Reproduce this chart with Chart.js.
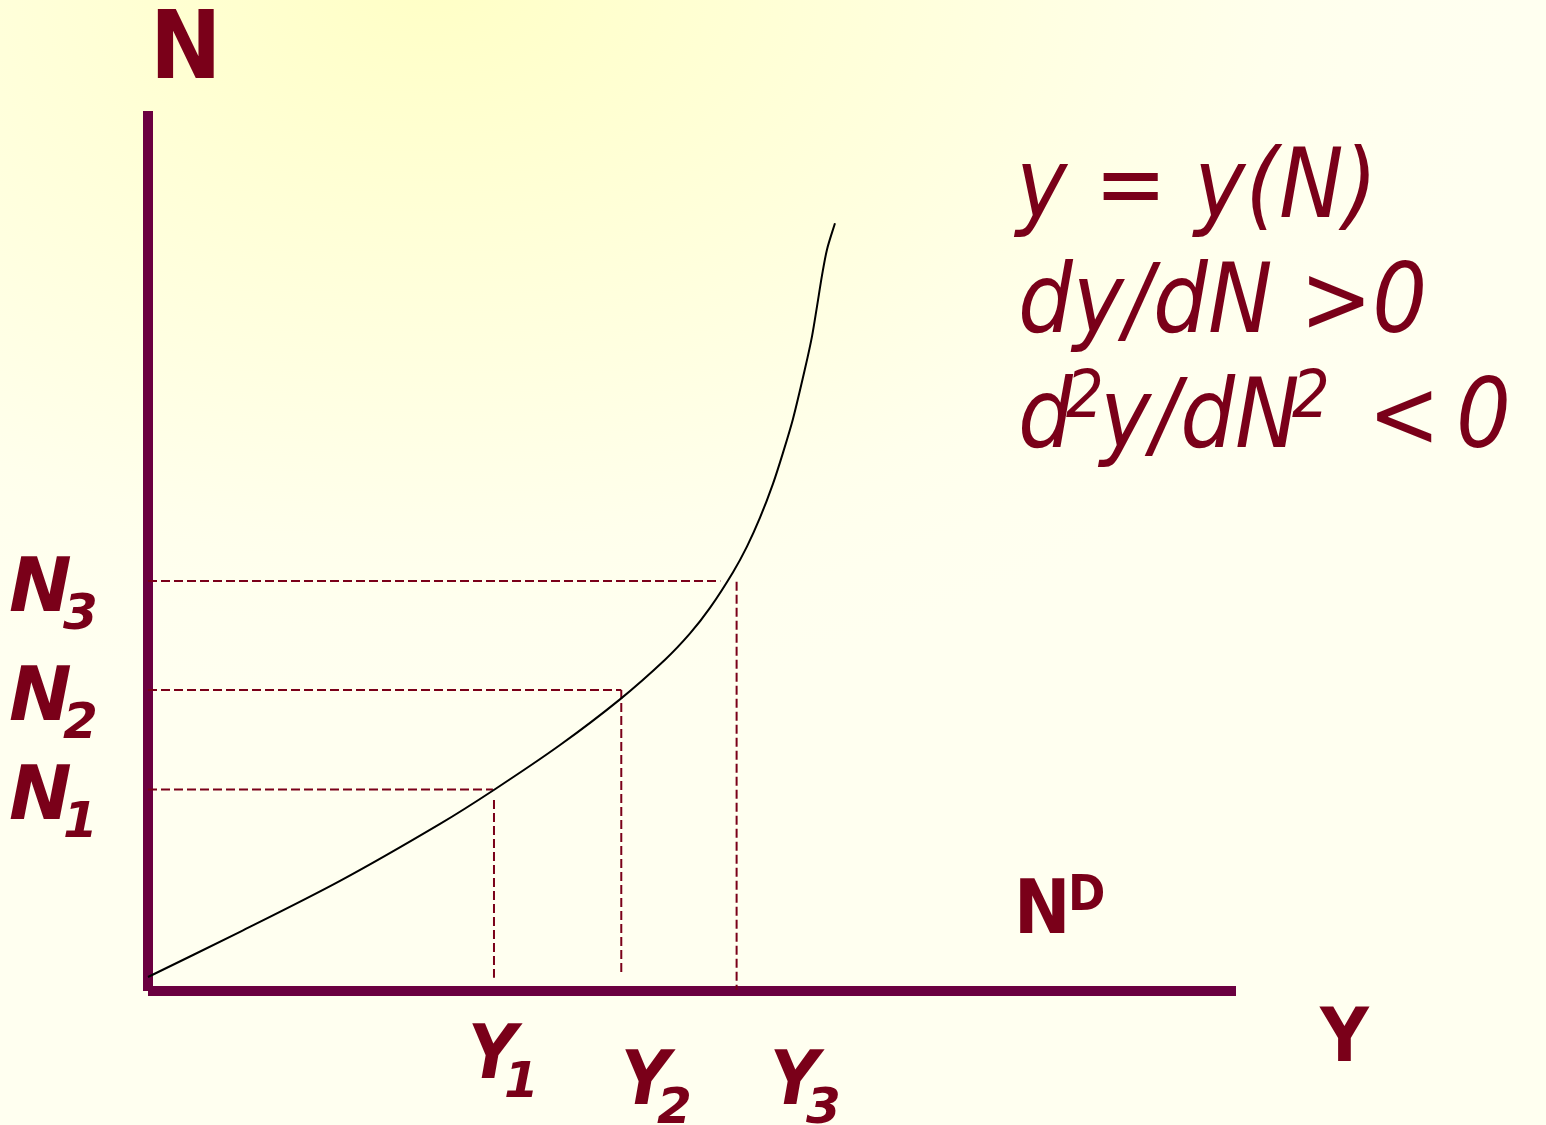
<!DOCTYPE html>
<html><head><meta charset="utf-8">
<script src="https://cdn.jsdelivr.net/npm/chart.js@4"></script>
<style>html,body{margin:0;padding:0;overflow:hidden;background:#fffff0}#wrap{width:1546px;height:1125px;position:relative}</style>
</head><body><div id="wrap"><canvas id="c"></canvas></div>
<script>
// Curve y = y(N): output Y (horizontal) and labour N (vertical), arbitrary units 0..100
const curveY = [0, 8.46, 17.65, 26.84, 31.89, 37.87, 43.38, 47.52, 49.82, 51.65, 53.77, 55.06, 56.25, 57.44, 58.36, 59.28, 60.39, 61.03, 61.49, 61.95, 62.41, 63.14];
const curveN = [1.59, 6.72, 12.51, 18.99, 22.93, 27.95, 33.14, 37.64, 40.63, 43.53, 47.59, 50.53, 53.78, 57.63, 61.15, 65.0, 70.73, 74.39, 77.8, 81.32, 84.27, 87.25];
// Reference levels N1..N3 and Y1..Y3
const nLevels = [22.9, 34.2, 46.6];
const yLevels = [31.8, 43.5, 54.1];
const hEnds = [31.7, 43.5, 52.6];     // where horizontal guides stop
const vTops = [21.7, 34.2, 46.5];     // where vertical guides start
const vBottoms = [1.5, 1.7, 0.1];     // where vertical guides stop
const nLabels = ['1', '2', '3'];
const yLabels = ['1', '2', '3'];
const axisMax = 100;

const AXIS = '#6b0040', RED = '#7a0019';
const datasets = [];
datasets.push({data: curveY.map((v, i) => ({x: v, y: curveN[i]})), borderColor: '#000', borderWidth: 2,
  tension: 0.3, order: 1});
nLevels.forEach((n, i) => datasets.push({data: [{x: 0, y: n}, {x: hEnds[i], y: n}], borderColor: RED, borderWidth: 2, borderDash: [9, 4], order: 2}));
yLevels.forEach((v, i) => datasets.push({data: [{x: v, y: vTops[i]}, {x: v, y: vBottoms[i]}], borderColor: RED, borderWidth: 2, borderDash: [9, 4], order: 2}));
datasets.push({data: [{x: 0, y: 0}, {x: 0, y: axisMax}], borderColor: AXIS, borderWidth: 10, borderCapStyle: 'butt', order: 3});
datasets.push({data: [{x: 0, y: 0}, {x: axisMax, y: 0}], borderColor: AXIS, borderWidth: 10, borderCapStyle: 'butt', order: 3});

const FAM = '"DejaVu Sans", sans-serif';
const bg = {id: 'bg', beforeDraw(c) {
  const ctx = c.ctx; ctx.save();
  ctx.fillStyle = '#fffff0'; ctx.fillRect(0, 0, c.width, c.height);
  ctx.translate(430, -20); ctx.scale(1.5, 1);
  const g = ctx.createRadialGradient(0, 0, 0, 0, 0, 750);
  g.addColorStop(0, '#ffffc6'); g.addColorStop(0.35, '#ffffd8'); g.addColorStop(0.75, '#ffffec'); g.addColorStop(1, 'rgba(255,255,240,0)');
  ctx.fillStyle = g; ctx.fillRect(-600, -20, 1400, 1200); ctx.restore();
}};
function t(ctx, s, x, y, font, stretch) {
  ctx.font = font + ' ' + FAM;
  try { ctx.fontStretch = stretch || 'normal'; } catch (e) {}
  ctx.fillText(s, x, y);
}
const labels = {id: 'labels', afterDraw(c) {
  const ctx = c.ctx; ctx.save();
  ctx.fillStyle = RED; ctx.textBaseline = 'alphabetic';
  const ys = c.scales.y;
  t(ctx, 'N', 150, 78, 'bold 95px', 'condensed');
  nLevels.forEach((n, i) => {
    const py = ys.getPixelForValue(n) + 30;
    t(ctx, 'N', 9, py, 'italic bold 75px');
    t(ctx, nLabels[i], 63, py + 18, 'italic bold 50px');
  });
  const yx = [468, 621, 770], yb = [1078, 1104, 1104];
  yLevels.forEach((v, i) => {
    t(ctx, 'Y', yx[i], yb[i], 'italic bold 75px', 'condensed');
    t(ctx, yLabels[i], yx[i] + 36, yb[i] + 19, 'italic bold 50px');
  });
  t(ctx, 'N', 1014, 933, 'bold 75px', 'condensed');
  t(ctx, 'D', 1068, 910, 'bold 50px', 'condensed');
  t(ctx, 'Y', 1320, 1061, 'bold 75px', 'condensed');
  const it = 'italic 96px', sup = 'italic 66px';
  t(ctx, 'y = y(N)', 1016, 217, it, 'condensed');
  t(ctx, 'dy/dN >0', 1018, 332, it, 'condensed');
  t(ctx, 'd', 1018, 447, it, 'condensed');
  t(ctx, '2', 1066, 417, sup, 'condensed');
  t(ctx, 'y/dN', 1100, 447, it, 'condensed');
  t(ctx, '2', 1292, 417, sup, 'condensed');
  t(ctx, '<', 1368, 447, it, 'condensed');
  t(ctx, '0', 1456, 447, it, 'condensed');
  ctx.restore();
}};

new Chart(document.getElementById('c'), {
  type: 'scatter',
  data: {datasets: datasets.map(d => Object.assign({showLine: true, pointRadius: 0, pointHoverRadius: 0, clip: false, fill: false}, d))},
  options: {
    responsive: true, maintainAspectRatio: false, animation: false,
    layout: {padding: {left: 148, right: 310, top: 111, bottom: 134}},
    plugins: {legend: {display: false}, tooltip: {enabled: false}},
    events: [],
    scales: {
      x: {type: 'linear', min: 0, max: axisMax, display: false},
      y: {type: 'linear', min: 0, max: axisMax, display: false}
    }
  },
  plugins: [bg, labels]
});
</script></body></html>
